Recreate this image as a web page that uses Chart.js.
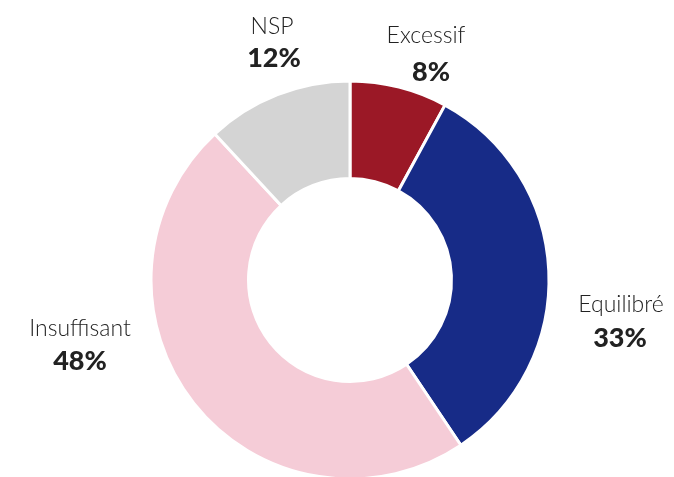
<!DOCTYPE html>
<html>
<head>
<meta charset="utf-8">
<script src="https://cdn.jsdelivr.net/npm/chart.js@4"></script>
<style>
  html, body { margin: 0; padding: 0; background: #ffffff; }
  #wrap { width: 674px; height: 477px; }
</style>
</head>
<body>
<div id="wrap"><canvas id="c" width="674" height="477"></canvas></div>
<script>
const categories = ["Excessif", "Equilibré", "Insuffisant", "NSP"];
const values = [8, 33, 48, 12];
const percentLabels = ["8%", "33%", "48%", "12%"];
const colors = ["#9B1826", "#172B87", "#F5CCD7", "#D4D4D4"];

// label anchor offsets relative to the doughnut centre (text placement only)
const labelOffsets = [
  { nx: 76, ny: -237, px: 81, py: -199 },
  { nx: 271, ny: 32, px: 270, py: 67 },
  { nx: -270, ny: 56, px: -270, py: 90 },
  { nx: -78, ny: -246, px: -76, py: -213 }
];

const outsideLabels = {
  id: 'outsideLabels',
  afterDatasetsDraw(chart) {
    const ctx = chart.ctx;
    const meta = chart.getDatasetMeta(0);
    const arc = meta.data[0];
    const cx = arc.x, cy = arc.y;
    ctx.save();
    ctx.fillStyle = '#222222';
    ctx.textAlign = 'center';
    ctx.textBaseline = 'alphabetic';
    categories.forEach((name, i) => {
      const o = labelOffsets[i];
      ctx.font = '300 23px Lato';
      ctx.fillText(name, cx + o.nx, cy + o.ny);
      ctx.font = '900 27px Lato';
      ctx.fillText(percentLabels[i], cx + o.px, cy + o.py);
    });
    ctx.restore();
  }
};

new Chart(document.getElementById('c'), {
  type: 'doughnut',
  data: {
    labels: categories,
    datasets: [{
      data: values,
      backgroundColor: colors,
      borderColor: '#ffffff',
      borderWidth: 3,
      hoverOffset: 0
    }]
  },
  options: {
    responsive: false,
    animation: false,
    cutout: '51%',
    radius: 199,
    layout: { padding: { left: 153, right: 127, top: 83, bottom: 0 } },
    plugins: {
      legend: { display: false },
      tooltip: { enabled: false },
      title: { display: false }
    }
  },
  plugins: [outsideLabels]
});
</script>
</body>
</html>
